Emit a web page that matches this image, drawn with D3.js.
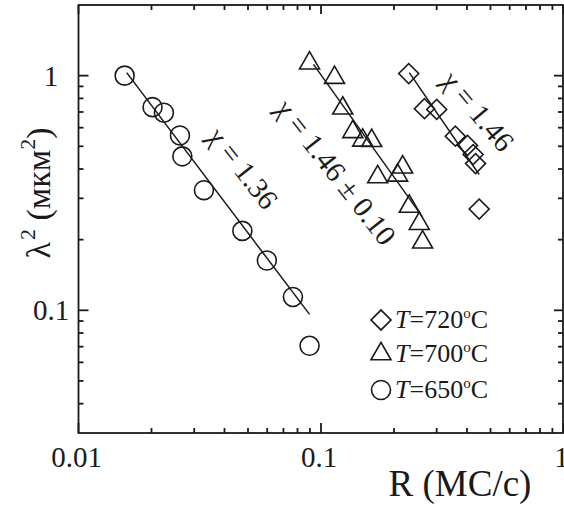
<!DOCTYPE html>
<html>
<head>
<meta charset="utf-8">
<script src="https://cdn.jsdelivr.net/npm/d3@7"></script>
<style>
  body { margin: 0; background: #fff; }
  svg { display: block; font-family: "Liberation Serif", "Times New Roman", serif; }
</style>
</head>
<body>
<div id="chart"></div>
<script>
// R (MC/c) and lambda^2 (mkm^2), one pair of arrays per temperature
var r720 = [0.230, 0.267, 0.300, 0.358, 0.402, 0.424, 0.434, 0.449];
var l720 = [1.02, 0.723, 0.718, 0.552, 0.504, 0.461, 0.422, 0.270];

var r700 = [0.0897, 0.1137, 0.1229, 0.1352, 0.1486, 0.1618, 0.1713, 0.2171, 0.207, 0.2313, 0.2543, 0.2624];
var l700 = [1.13, 0.981, 0.726, 0.576, 0.530, 0.528, 0.370, 0.407, 0.376, 0.277, 0.234, 0.195];

var r650 = [0.0155, 0.0202, 0.0225, 0.0262, 0.0268, 0.0329, 0.0474, 0.0598, 0.0766, 0.0897];
var l650 = [1.00, 0.734, 0.695, 0.556, 0.453, 0.325, 0.218, 0.163, 0.114, 0.0706];

// fitted power-law lines, [R, lambda^2] at both ends
var fit720 = [[0.2313, 1.03], [0.449, 0.379]];
var fit700 = [[0.0931, 1.117], [0.2616, 0.2506]];
var fit650 = [[0.0158, 1.03], [0.0897, 0.0961]];

var fitLabels = ["1.46", "1.46 \u00b1 0.10", "1.36"];
var legendTemps = ["720", "700", "650"];

var xMajor = [0.01, 0.1, 1];
var yMajor = [0.1, 1];

var width = 564, height = 506;
var svg = d3.select("#chart").append("svg")
	.attr("width", width)
	.attr("height", height);

// plot box (note: "top" is a reserved window property, so prefixed names)
var pLeft = 78.5, pRight = 563, pTop = 5, pBottom = 433;

var x = d3.scaleLog().domain([0.01, 1]).range([pLeft, 563.5]);
var y = d3.scaleLog().domain([0.03, 2]).range([pBottom, pTop]);

// minor ticks (2..9 of every decade inside the domain)
function minors(scale) {
	var d = scale.domain(), out = [];
	for (var p = -3; p <= 1; p++) {
		for (var m = 2; m <= 9; m++) {
			var v = m * Math.pow(10, p);
			if (v > d[0] * 1.0001 && v < d[1] * 0.9999) out.push(v);
		}
	}
	return out;
}
var xMinor = minors(x), yMinor = minors(y);

var ink = "#1a1a1a";
var axes = svg.append("g").attr("stroke", ink).attr("stroke-width", 1.8);

// bottom / top ticks (pointing inward)
xMajor.forEach(function(v) {
	axes.append("line").attr("x1", x(v)).attr("x2", x(v)).attr("y1", pBottom).attr("y2", pBottom - 10);
	axes.append("line").attr("x1", x(v)).attr("x2", x(v)).attr("y1", pTop).attr("y2", pTop + 9);
});
xMinor.forEach(function(v) {
	axes.append("line").attr("x1", x(v)).attr("x2", x(v)).attr("y1", pBottom).attr("y2", pBottom - 5);
	axes.append("line").attr("x1", x(v)).attr("x2", x(v)).attr("y1", pTop).attr("y2", pTop + 5);
});
// left / right ticks
yMajor.forEach(function(v) {
	axes.append("line").attr("y1", y(v)).attr("y2", y(v)).attr("x1", pLeft).attr("x2", pLeft + 10);
	axes.append("line").attr("y1", y(v)).attr("y2", y(v)).attr("x1", pRight).attr("x2", pRight - 9);
});
yMinor.forEach(function(v) {
	axes.append("line").attr("y1", y(v)).attr("y2", y(v)).attr("x1", pLeft).attr("x2", pLeft + 5);
	axes.append("line").attr("y1", y(v)).attr("y2", y(v)).attr("x1", pRight).attr("x2", pRight - 5);
});

// frame
axes.append("rect")
	.attr("x", pLeft).attr("y", pTop)
	.attr("width", pRight - pLeft).attr("height", pBottom - pTop)
	.attr("fill", "none");

// tick labels
var fmt = function(v) { return v >= 1 ? "1" : (v >= 0.1 ? "0.1" : "0.01"); };
svg.append("g").selectAll("text").data(xMajor).enter().append("text")
	.attr("x", function(d) { return x(d) - 2; })
	.attr("y", 467)
	.attr("text-anchor", "middle")
	.style("font-size", "29px")
	.attr("fill", ink)
	.text(fmt);
svg.append("g").selectAll("text").data(yMajor).enter().append("text")
	.attr("x", 51)
	.attr("y", function(d) { return y(d) + 10; })
	.attr("text-anchor", "middle")
	.style("font-size", "29px")
	.attr("fill", ink)
	.text(fmt);

// axis titles
svg.append("text")
	.attr("x", 460).attr("y", 496)
	.attr("text-anchor", "middle")
	.style("font-size", "37px")
	.attr("fill", ink)
	.text("R (MC/c)");

var yt = svg.append("text")
	.attr("transform", "translate(50,193) rotate(-90)")
	.attr("text-anchor", "middle")
	.style("font-size", "34px")
	.attr("fill", ink);
yt.append("tspan").text("\u03bb");
yt.append("tspan").attr("dy", -15).attr("dx", 2).style("font-size", "22px").text("2");
yt.append("tspan").attr("dy", 15).text(" (\u043c\u043a\u043c");
yt.append("tspan").attr("dy", -15).style("font-size", "22px").text("2");
yt.append("tspan").attr("dy", 15).text(")");

// fit lines
var line = d3.line().x(function(d) { return x(d[0]); }).y(function(d) { return y(d[1]); });
svg.append("g").selectAll("path").data([fit720, fit700, fit650]).enter().append("path")
	.attr("d", line)
	.attr("fill", "none")
	.attr("stroke", ink)
	.attr("stroke-width", 1.5);

// markers
var shapes = {
	diamond: d3.symbol().type(d3.symbolSquare).size(200),
	triangle: d3.symbol().type(d3.symbolTriangle).size(173),
	circle: d3.symbol().type(d3.symbolCircle).size(283)
};
function drawSeries(rs, ls, shape, rot) {
	svg.append("g").selectAll("path").data(rs).enter().append("path")
		.attr("d", shapes[shape]())
		.attr("transform", function(d, i) {
			return "translate(" + x(d) + "," + y(ls[i]) + ") rotate(" + rot + ")";
		})
		.attr("fill", "none")
		.attr("stroke", ink)
		.attr("stroke-width", 1.6);
}
drawSeries(r720, l720, "diamond", 45);
drawSeries(r700, l700, "triangle", 0);
drawSeries(r650, l650, "circle", 0);

// slope annotations
var notePos = [[478, 111, 50], [336, 172, 52], [243, 168, 52]];
fitLabels.forEach(function(t, i) {
	var p = notePos[i];
	var g = svg.append("text")
		.attr("transform", "translate(" + p[0] + "," + p[1] + ") rotate(" + p[2] + ")")
		.attr("text-anchor", "middle")
		.attr("dominant-baseline", "central")
		.style("font-size", "29px")
		.attr("fill", ink);
	g.append("tspan").text("\u03c7");
	g.append("tspan").text(" = " + t);
});

// legend
var legendShapes = ["diamond", "triangle", "circle"];
var legendY = [320, 354, 390];
var lg = svg.append("g");
legendTemps.forEach(function(t, i) {
	lg.append("path")
		.attr("d", shapes[legendShapes[i]]())
		.attr("transform", "translate(381," + legendY[i] + ") rotate(" + (i === 0 ? 45 : 0) + ")")
		.attr("fill", "none")
		.attr("stroke", ink)
		.attr("stroke-width", 1.6);
	var tx = lg.append("text")
		.attr("x", 395).attr("y", legendY[i] + 8)
		.style("font-size", "26px")
		.attr("fill", ink);
	tx.append("tspan").style("font-style", "italic").text("T");
	tx.append("tspan").text("=" + t);
	tx.append("tspan").attr("dy", -10).style("font-size", "15px").text("o");
	tx.append("tspan").attr("dy", 10).text("C");
});
</script>
</body>
</html>
